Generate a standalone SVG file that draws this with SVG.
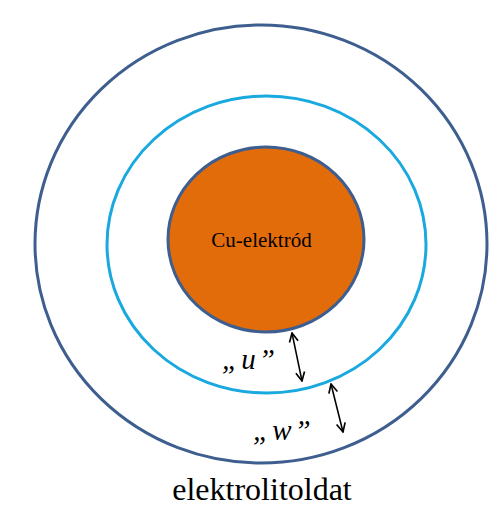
<svg xmlns="http://www.w3.org/2000/svg" width="504" height="513" viewBox="0 0 504 513">
<style>
.lbl{font-family:"Liberation Serif","Times New Roman",serif;fill:#000}
.it{font-style:italic;font-size:29px;letter-spacing:3px}
.arr{stroke:#000;stroke-width:1.5;fill:none;marker-start:url(#ah);marker-end:url(#ah)}
</style>
<defs>
<marker id="ah" viewBox="0 0 10 10" refX="9" refY="5" markerWidth="11" markerHeight="11" markerUnits="userSpaceOnUse" orient="auto-start-reverse">
<path d="M1,1 L9,5 L1,9" fill="none" stroke="#000" stroke-width="1.5"/>
</marker>
</defs>
<rect width="504" height="513" fill="#fff"/>
<g id="outer"><ellipse cx="261" cy="244" rx="226" ry="219" fill="none" stroke="#3D5E8E" stroke-width="3"/></g>
<g id="middle"><ellipse cx="266.5" cy="244.5" rx="159.5" ry="148.5" fill="none" stroke="#19A9DF" stroke-width="3"/></g>
<g id="electrode"><ellipse cx="266" cy="239.5" rx="98" ry="92.5" fill="#E36C0A" stroke="#3D5E8E" stroke-width="3"/>
<text class="lbl" x="261.5" y="247" font-size="21" text-anchor="middle" fill="#2A0E00">Cu-elektród</text></g>
<g id="connectors">
<line class="arr" x1="292" y1="333" x2="302" y2="381"/>
<line class="arr" x1="331" y1="384" x2="343" y2="432"/>
</g>
<g id="label-u"><text class="lbl it" x="222" y="369">„u”</text></g>
<g id="label-w"><text class="lbl it" x="253" y="440">„w”</text></g>
<g id="label-solution"><text class="lbl" x="262" y="500" font-size="32" text-anchor="middle">elektrolitoldat</text></g>
</svg>
